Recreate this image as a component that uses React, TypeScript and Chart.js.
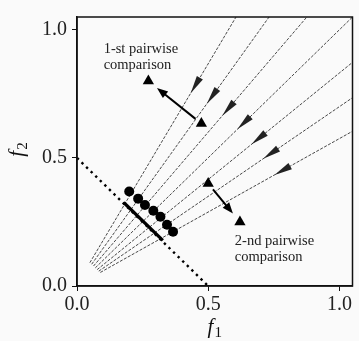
import React, { useEffect, useRef } from "react";
import { Chart, registerables } from "chart.js";

Chart.register(...registerables);

// axis ranges and tick values
const axisMin = 0;
const axisMax = 1.05;
const tickValues = [0, 0.5, 1.0];

// reference rays (start near origin, end at the plot boundary)
const rayStartX = [0.049, 0.056, 0.063, 0.070, 0.077, 0.083, 0.089];
const rayStartY = [0.091, 0.085, 0.078, 0.071, 0.064, 0.058, 0.053];
const rayEndX = [0.606, 0.732, 0.876, 1.05, 1.05, 1.05, 1.05];
const rayEndY = [1.05, 1.05, 1.05, 1.05, 0.873, 0.735, 0.604];
const rayArrowDist = 0.765; // arrow tip distance from the ray start (data units)

// dotted front line x + y = 0.5
const frontX = [0.0, 0.5];
const frontY = [0.5, 0.0];

// thick segment on the front
const segX = [0.178, 0.327];
const segY = [0.326, 0.178];

// solution points
const solX = [0.199, 0.233, 0.259, 0.291, 0.318, 0.343, 0.366];
const solY = [0.369, 0.341, 0.316, 0.294, 0.270, 0.239, 0.212];

// pairwise comparison triangles
const triX = [0.272, 0.474, 0.5, 0.621];
const triY = [0.800, 0.634, 0.40, 0.25];
const pairFrom = [1, 2];
const pairTo = [0, 3];

// annotations
const noteText = [
  ["1-st pairwise", "comparison"],
  ["2-nd pairwise", "comparison"],
];
const noteX = [0.1015, 0.6015];
const noteY = [0.926, 0.176];

const SERIF = "'Liberation Serif', 'Times New Roman', serif";

function drawHead(
  ctx: CanvasRenderingContext2D,
  tx: number,
  ty: number,
  dx: number,
  dy: number,
  len: number,
  hw: number
) {
  const bx = tx - dx * len;
  const by = ty - dy * len;
  const px = -dy;
  const py = dx;
  ctx.beginPath();
  ctx.moveTo(tx, ty);
  ctx.lineTo(bx + px * hw, by + py * hw);
  ctx.lineTo(bx - px * hw, by - py * hw);
  ctx.closePath();
  ctx.fill();
}

const decorPlugin = {
  id: "decor",
  afterDatasetsDraw(chart: any) {
    const ctx: CanvasRenderingContext2D = chart.ctx;
    const xs = chart.scales.x;
    const ys = chart.scales.y;
    const ca = chart.chartArea;
    ctx.save();

    // ray arrowheads pointing back toward the origin
    ctx.fillStyle = "#222";
    for (let i = 0; i < rayStartX.length; i++) {
      const ddx = rayEndX[i] - rayStartX[i];
      const ddy = rayEndY[i] - rayStartY[i];
      const L = Math.hypot(ddx, ddy);
      const tx = rayStartX[i] + (ddx / L) * rayArrowDist;
      const ty = rayStartY[i] + (ddy / L) * rayArrowDist;
      const ptx = xs.getPixelForValue(tx);
      const pty = ys.getPixelForValue(ty);
      const sx = xs.getPixelForValue(rayStartX[i]);
      const sy = ys.getPixelForValue(rayStartY[i]);
      const ex = xs.getPixelForValue(rayEndX[i]);
      const ey = ys.getPixelForValue(rayEndY[i]);
      const pl = Math.hypot(sx - ex, sy - ey);
      drawHead(ctx, ptx, pty, (sx - ex) / pl, (sy - ey) / pl, 18, 3.5);
    }

    // pairwise comparison arrows
    ctx.strokeStyle = "#000";
    ctx.fillStyle = "#000";
    ctx.lineWidth = 2;
    for (let k = 0; k < pairFrom.length; k++) {
      const ax = xs.getPixelForValue(triX[pairFrom[k]]);
      const ay = ys.getPixelForValue(triY[pairFrom[k]]);
      const bx = xs.getPixelForValue(triX[pairTo[k]]);
      const by = ys.getPixelForValue(triY[pairTo[k]]);
      const L = Math.hypot(bx - ax, by - ay);
      const ux = (bx - ax) / L;
      const uy = (by - ay) / L;
      const sx = ax + ux * 7.5;
      const sy = ay + uy * 7.5;
      const tx = bx - ux * 11;
      const ty = by - uy * 11;
      ctx.beginPath();
      ctx.moveTo(sx, sy);
      ctx.lineTo(tx - ux * 8, ty - uy * 8);
      ctx.stroke();
      drawHead(ctx, tx, ty, ux, uy, 11, 4.2);
    }

    // annotations
    ctx.fillStyle = "#222";
    ctx.font = `14.5px ${SERIF}`;
    ctx.textAlign = "left";
    ctx.textBaseline = "middle";
    for (let i = 0; i < noteText.length; i++) {
      const x = xs.getPixelForValue(noteX[i]);
      const y = ys.getPixelForValue(noteY[i]);
      noteText[i].forEach((line, j) => ctx.fillText(line, x, y + j * 16));
    }

    // frame
    ctx.strokeStyle = "#111";
    ctx.lineWidth = 1.5;
    ctx.strokeRect(ca.left, ca.top, ca.right - ca.left, ca.bottom - ca.top);

    // axis titles (math-style italic with subscript)
    ctx.fillStyle = "#111";
    ctx.textBaseline = "alphabetic";
    const drawSub = (base: string, sub: string) => {
      ctx.font = `italic 21px ${SERIF}`;
      const w1 = ctx.measureText(base).width;
      ctx.font = `15px ${SERIF}`;
      const w2 = ctx.measureText(sub).width;
      const total = w1 + 1 + w2;
      ctx.font = `italic 21px ${SERIF}`;
      ctx.textAlign = "left";
      ctx.fillText(base, -total / 2, 0);
      ctx.font = `15px ${SERIF}`;
      ctx.fillText(sub, -total / 2 + w1 + 1, 4);
    };
    const cx = (ca.left + ca.right) / 2;
    ctx.save();
    ctx.translate(cx, 333);
    drawSub("f", "1");
    ctx.restore();
    const cy = (ca.top + ca.bottom) / 2;
    ctx.save();
    ctx.translate(23, cy - 2);
    ctx.rotate(-Math.PI / 2);
    drawSub("f", "2");
    ctx.restore();

    ctx.restore();
  },
};

export default function App() {
  const ref = useRef<HTMLCanvasElement | null>(null);

  useEffect(() => {
    if (!ref.current) return;
    const rays = rayStartX.map((_, i) => ({
      data: [
        { x: rayStartX[i], y: rayStartY[i] },
        { x: rayEndX[i], y: rayEndY[i] },
      ],
      showLine: true,
      borderColor: "#333",
      borderWidth: 0.9,
      borderDash: [3, 1.5],
      pointRadius: 0,
      order: 4,
    }));
    const chart = new Chart(ref.current, {
      type: "scatter",
      data: {
        datasets: [
          ...rays,
          {
            data: frontX.map((x, i) => ({ x, y: frontY[i] })),
            showLine: true,
            borderColor: "#000",
            borderWidth: 2.4,
            borderDash: [2.4, 4],
            pointRadius: 0,
            order: 3,
          },
          {
            data: segX.map((x, i) => ({ x, y: segY[i] })),
            showLine: true,
            borderColor: "#000",
            borderWidth: 3.2,
            pointRadius: 0,
            order: 2,
          },
          {
            data: solX.map((x, i) => ({ x, y: solY[i] })),
            pointRadius: 5,
            pointBackgroundColor: "#000",
            pointBorderColor: "#000",
            pointBorderWidth: 0,
            order: 1,
          },
          {
            data: triX.map((x, i) => ({ x, y: triY[i] })),
            pointStyle: "triangle",
            pointRadius: 6.5,
            pointBackgroundColor: "#000",
            pointBorderColor: "#000",
            pointBorderWidth: 0,
            order: 1,
          },
        ] as any,
      },
      options: {
        responsive: false,
        animation: false,
        events: [],
        layout: { padding: { left: 0, top: 6, right: 2, bottom: 0 } },
        plugins: {
          legend: { display: false },
          tooltip: { enabled: false },
        },
        scales: {
          x: {
            type: "linear",
            min: axisMin,
            max: axisMax,
            afterBuildTicks: (s: any) => {
              s.ticks = tickValues.map((v) => ({ value: v }));
            },
            afterFit: (s: any) => {
              s.height = 55;
            },
            ticks: {
              color: "#222",
              font: { family: SERIF, size: 20 },
              padding: 2,
              maxRotation: 0,
              callback: (v: any) => Number(v).toFixed(1),
            },
            grid: {
              drawOnChartArea: false,
              drawTicks: true,
              tickLength: 5,
              color: "#111",
              lineWidth: 1,
            },
            border: { display: true, color: "#111", width: 1.5 },
          },
          y: {
            type: "linear",
            min: axisMin,
            max: axisMax,
            afterBuildTicks: (s: any) => {
              s.ticks = tickValues.map((v) => ({ value: v }));
            },
            afterFit: (s: any) => {
              s.width = 77;
            },
            ticks: {
              color: "#222",
              font: { family: SERIF, size: 20 },
              padding: 5,
              callback: (v: any) => Number(v).toFixed(1),
            },
            grid: {
              drawOnChartArea: false,
              drawTicks: true,
              tickLength: 5,
              color: "#111",
              lineWidth: 1,
            },
            border: { display: true, color: "#111", width: 1.5 },
          },
        },
      },
      plugins: [decorPlugin],
    });
    return () => chart.destroy();
  }, []);

  return (
    <div
      style={{
        position: "absolute",
        left: 0,
        top: 0,
        width: 359,
        height: 341,
        background: "#fafafa",
      }}
    >
      <canvas ref={ref} width={359} height={341} style={{ width: 359, height: 341 }} />
    </div>
  );
}
